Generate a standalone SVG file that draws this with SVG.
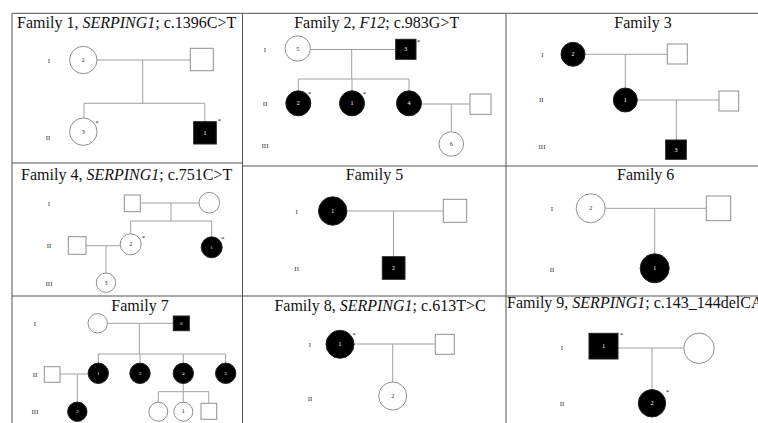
<svg xmlns="http://www.w3.org/2000/svg" width="758" height="423" viewBox="0 0 758 423">
<style>
.bd{stroke:#555;stroke-width:1;fill:none}
.ln{stroke:#a0a0a0;stroke-width:1;fill:none}
.op{fill:#fff;stroke:#8f8f8f;stroke-width:1}
.af{fill:#000;stroke:#222;stroke-width:1}
.tt{font-family:"Liberation Serif",serif;font-size:16px;text-anchor:middle;fill:#111}
.tl{font-family:"Liberation Serif",serif;font-size:16px;fill:#111}
.gn{font-family:"Liberation Serif",serif;font-size:7px;text-anchor:middle;fill:#333}
.nm{font-family:"Liberation Serif",serif;font-size:6px;text-anchor:middle;fill:#222}
.nw{font-family:"Liberation Serif",serif;font-size:6px;text-anchor:middle;fill:#fff}
.ns{font-family:"Liberation Serif",serif;font-size:4.5px;text-anchor:middle;fill:#fff}
.as{font-family:"Liberation Serif",serif;font-size:7px;text-anchor:middle;fill:#222}
</style>
<rect width="758" height="423" fill="#fff"/>
<g id="grid">
<path class="bd" d="M12 13.3H758M12 13.3V423M242.5 13.3V423M506 13.3V423M12 163H242.5M242.5 166H758M12 296H758"/>
</g>
<g id="titles">
<text class="tt" x="126.7" y="27.5">Family 1, <tspan font-style="italic">SERPING1</tspan>; c.1396C&gt;T</text>
<text class="tt" x="376.7" y="27.5">Family 2, <tspan font-style="italic">F12</tspan>; c.983G&gt;T</text>
<text class="tt" x="643" y="27.5">Family 3</text>
<text class="tt" x="126.7" y="179.5">Family 4, <tspan font-style="italic">SERPING1</tspan>; c.751C&gt;T</text>
<text class="tt" x="374.5" y="179.5">Family 5</text>
<text class="tt" x="645.7" y="179.5">Family 6</text>
<text class="tt" x="140" y="310.5">Family 7</text>
<text class="tt" x="380" y="310.5">Family 8, <tspan font-style="italic">SERPING1</tspan>; c.613T&gt;C</text>
<text class="tl" x="507" y="307.5">Family 9, <tspan font-style="italic">SERPING1</tspan>; c.143_144delCA</text>
</g>
<g id="generations">
<text class="gn" x="49" y="63.3">I</text><text class="gn" x="48" y="139.5">II</text>
<text class="gn" x="265" y="51.8">I</text><text class="gn" x="265" y="105.5">II</text><text class="gn" x="265" y="148">III</text>
<text class="gn" x="542.3" y="56.6">I</text><text class="gn" x="541.3" y="102.3">II</text><text class="gn" x="542" y="149">III</text>
<text class="gn" x="49" y="205.6">I</text><text class="gn" x="49" y="248">II</text><text class="gn" x="49" y="285.6">III</text>
<text class="gn" x="296.7" y="214">I</text><text class="gn" x="296.7" y="270.6">II</text>
<text class="gn" x="552" y="210.6">I</text><text class="gn" x="552" y="272.3">II</text>
<text class="gn" x="35" y="325.6">I</text><text class="gn" x="35" y="376.6">II</text><text class="gn" x="35" y="414">III</text>
<text class="gn" x="310" y="347.3">I</text><text class="gn" x="310" y="400.6">II</text>
<text class="gn" x="562" y="349.6">I</text><text class="gn" x="562" y="405.6">II</text>
</g>
<g id="connectors">
<path class="ln" d="M97 60H190.3M142.7 60V103.3M84 103.3H204.8M84 103.3V118M204.8 103.3V121.7"/>
<path class="ln" d="M310.4 49.5H395.7M351.7 49.5V79M298.3 79H409M298.3 79V90.8M352 79V90.8M409 79V90.8M421.5 104H470M451.3 104V131.7"/>
<path class="ln" d="M585 54.3H667.3M625.3 54.3V88M637.3 100H719M676.3 100V140"/>
<path class="ln" d="M140.3 203H199M171 203V221M130.7 221H211.7M130.7 221V233.8M211.7 221V236.8M86 245.7H120.2M106 245.7V273"/>
<path class="ln" d="M346.9 211H443.3M393.5 211V256.7"/>
<path class="ln" d="M605.2 208.3H706.3M654.7 208.3V253.8"/>
<path class="ln" d="M107.4 323.3H173.3M139.3 323.3V354M98.3 354H225.7M98.3 354V363.1M140 354V363.1M183.3 354V363.1M225.7 354V363.1M60 374H88.1M77.3 374V402M183.3 383.5V391.7M158.3 391.7H208.8M158.3 391.7V402.2M183.3 391.7V402.2M208.8 391.7V403.3"/>
<path class="ln" d="M354 344H435.3M392.7 344V382"/>
<path class="ln" d="M618 348H683.8M652 348V389.6"/>
</g>
<g id="f1-I-2"><circle class="op" cx="83.3" cy="60" r="13.7"/><text class="nm" x="83.3" y="62">2</text></g>
<g id="f1-I-m"><rect class="op" x="190.3" y="48.3" width="23" height="22.4"/></g>
<g id="f1-II-3"><circle class="op" cx="83.3" cy="131.7" r="13.7"/><text class="nm" x="83.3" y="133.7">3</text><text class="as" x="97" y="124.5">*</text></g>
<g id="f1-II-1"><rect class="af" x="193.7" y="121.7" width="22.6" height="22.3"/><text class="nw" x="205" y="134.9">1</text><text class="as" x="219.5" y="123">*</text></g>
<g id="f2-I-5"><circle class="op" cx="297.7" cy="48.5" r="12.7"/><text class="nm" x="297.7" y="50.5">5</text></g>
<g id="f2-I-3"><rect class="af" x="395.7" y="39.3" width="20.3" height="20"/><text class="nw" x="405.8" y="51.3">3</text><text class="as" x="418.6" y="43.5">*</text></g>
<g id="f2-II-2"><circle class="af" cx="298.3" cy="103.3" r="12.5"/><text class="nw" x="298.3" y="105.3">2</text><text class="as" x="309.5" y="95.5">*</text></g>
<g id="f2-II-1"><circle class="af" cx="352" cy="103.3" r="12.5"/><text class="nw" x="352" y="105.3">1</text><text class="as" x="364.5" y="95.5">*</text></g>
<g id="f2-II-4"><circle class="af" cx="409" cy="103.3" r="12.5"/><text class="nw" x="409" y="105.3">4</text></g>
<g id="f2-II-m"><rect class="op" x="470" y="94" width="21" height="20.3"/></g>
<g id="f2-III-6"><circle class="op" cx="451.3" cy="144" r="12.3"/><text class="nm" x="451.3" y="146">6</text></g>
<g id="f3-I-2"><circle class="af" cx="573" cy="54.3" r="12"/><text class="nw" x="573" y="56.3">2</text></g>
<g id="f3-I-m"><rect class="op" x="667.3" y="44" width="20" height="20"/></g>
<g id="f3-II-1"><circle class="af" cx="625.3" cy="100" r="12"/><text class="nw" x="625.3" y="102">1</text></g>
<g id="f3-II-m"><rect class="op" x="719" y="91" width="19.7" height="20"/></g>
<g id="f3-III-3"><rect class="af" x="665.7" y="140" width="20.6" height="19.3"/><text class="nw" x="676" y="151.6">3</text></g>
<g id="f4-I-m"><rect class="op" x="124.3" y="195" width="16" height="16.7"/></g>
<g id="f4-I-f"><circle class="op" cx="209.3" cy="202.7" r="10.3"/></g>
<g id="f4-II-2"><circle class="op" cx="130.7" cy="244.3" r="10.5"/><text class="nm" x="130.7" y="246.3">2</text><text class="as" x="143.5" y="240.3">*</text></g>
<g id="f4-II-1"><circle class="af" cx="211.7" cy="247.3" r="10.5"/><text class="ns" x="211.7" y="249">1</text><text class="as" x="222.7" y="240.8">*</text></g>
<g id="f4-II-m"><rect class="op" x="68.3" y="236.7" width="17.7" height="17.6"/></g>
<g id="f4-III-3"><circle class="op" cx="106" cy="282.7" r="9.7"/><text class="nm" x="106" y="284.5" font-size="4.5">3</text></g>
<g id="f5-I-1"><circle class="af" cx="332.7" cy="211" r="14.2"/><text class="nw" x="332.7" y="213">1</text></g>
<g id="f5-I-m"><rect class="op" x="443.3" y="199.3" width="23.4" height="23"/></g>
<g id="f5-II-2"><rect class="af" x="382.3" y="256.7" width="22.7" height="22.6"/><text class="nw" x="393.6" y="270">2</text></g>
<g id="f6-I-2"><circle class="op" cx="590.7" cy="208.3" r="14.5"/><text class="nm" x="590.7" y="210.3">2</text></g>
<g id="f6-I-m"><rect class="op" x="706.3" y="196" width="24.4" height="24.7"/></g>
<g id="f6-II-1"><circle class="af" cx="654.7" cy="268.3" r="14.5"/><text class="nw" x="654.7" y="270.3">1</text></g>
<g id="f7-I-f"><circle class="op" cx="97.7" cy="323.3" r="9.7"/></g>
<g id="f7-I-6"><rect class="af" x="173.3" y="316" width="16" height="14.7"/><text class="ns" x="181.3" y="325">6</text></g>
<g id="f7-II-m"><rect class="op" x="44.3" y="366.7" width="15.7" height="15.6"/></g>
<g id="f7-II-1"><circle class="af" cx="98.3" cy="373.3" r="10.2"/><text class="ns" x="98.3" y="375">1</text></g>
<g id="f7-II-3"><circle class="af" cx="140" cy="373.3" r="10.2"/><text class="ns" x="140" y="375">3</text></g>
<g id="f7-II-4"><circle class="af" cx="183.3" cy="373.3" r="10.2"/><text class="ns" x="183.3" y="375">4</text></g>
<g id="f7-II-5"><circle class="af" cx="225.7" cy="373.3" r="10.2"/><text class="ns" x="225.7" y="375">5</text></g>
<g id="f7-III-2"><circle class="af" cx="77.3" cy="411.7" r="9.7"/><text class="ns" x="77.3" y="413.4">2</text></g>
<g id="f7-III-f"><circle class="op" cx="158.3" cy="411.7" r="9.5"/></g>
<g id="f7-III-1"><circle class="op" cx="183.3" cy="411.7" r="9.5"/><text class="nm" x="183.3" y="413.4" font-size="4.5">1</text></g>
<g id="f7-III-m"><rect class="op" x="201" y="403.3" width="15.7" height="16"/></g>
<g id="f8-I-1"><circle class="af" cx="340" cy="344.3" r="14"/><text class="nw" x="340" y="346.3">1</text><text class="as" x="354" y="337">*</text></g>
<g id="f8-I-m"><rect class="op" x="435.3" y="334.3" width="19" height="20"/></g>
<g id="f8-II-2"><circle class="op" cx="392.7" cy="396" r="14"/><text class="nm" x="392.7" y="398">2</text></g>
<g id="f9-I-1"><rect class="af" x="589" y="333.3" width="29" height="25.7"/><text class="nw" x="603.5" y="348.2">1</text><text class="as" x="621.5" y="337">*</text></g>
<g id="f9-I-f"><circle class="op" cx="699" cy="348.3" r="15.2"/></g>
<g id="f9-II-2"><circle class="af" cx="652" cy="403.3" r="13.7"/><text class="nw" x="652" y="405.3">2</text><text class="as" x="667.5" y="394">*</text></g>
</svg>
